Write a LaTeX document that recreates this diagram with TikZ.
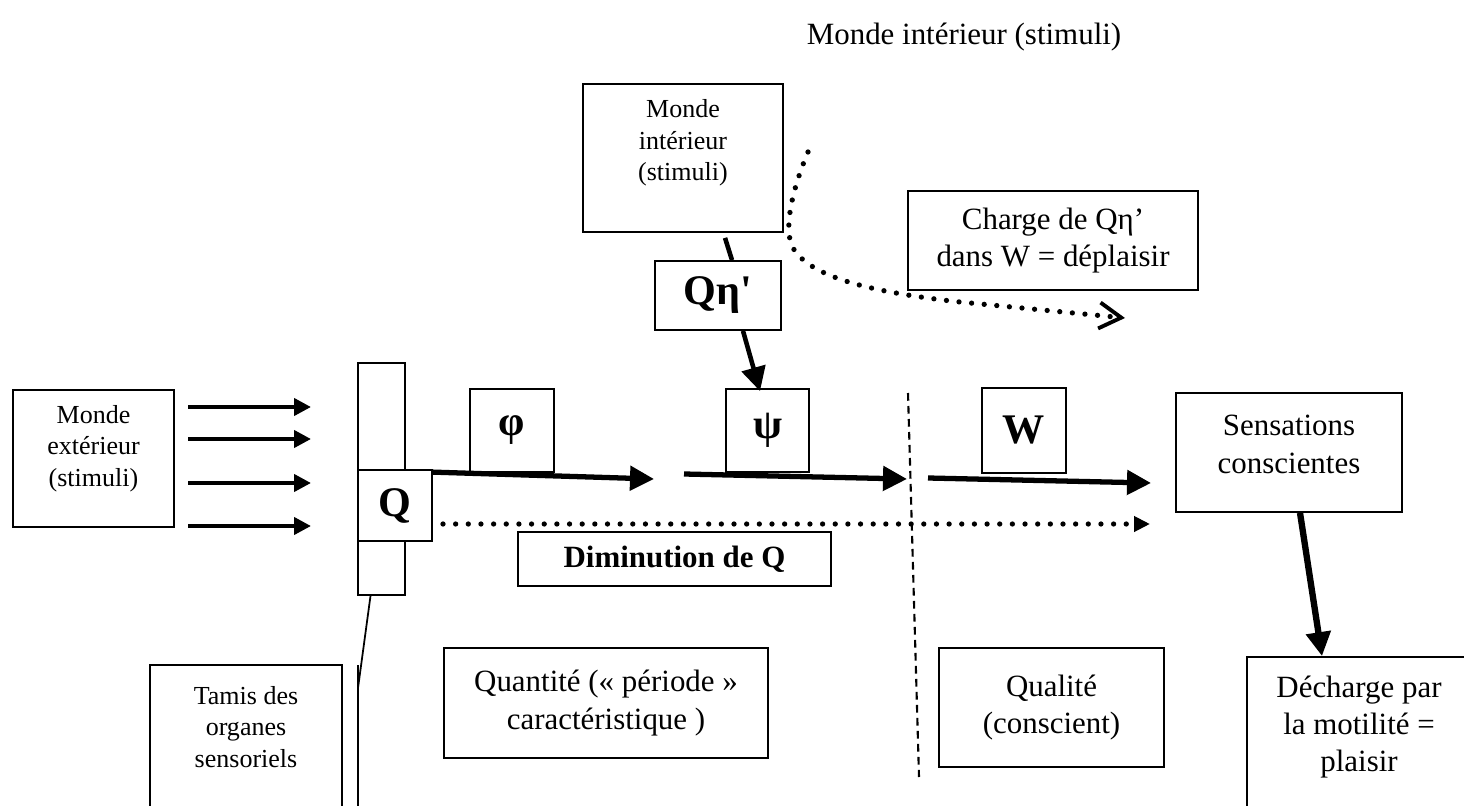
\documentclass[tikz,border=0pt]{standalone}
\usepackage{fontspec}
\setmainfont{Liberation Serif}
\newfontfamily\plainquote{Liberation Serif}[Ligatures=TeXOff]
\usepackage{tikz}
\usetikzlibrary{arrows.meta}
\tikzstyle{box} = [draw, line width=0.5pt, fill=white, align=center, inner sep=0pt]
\tikzstyle{flow} = [draw, -{Triangle[length=2.4mm,width=2.4mm]}, line width=1.5pt]
\tikzstyle{feed} = [draw, -{Triangle[length=1.7mm,width=1.7mm]}, line width=1.15pt]
\tikzstyle{dots} = [draw, line width=1.5pt, line cap=round, dash pattern=on 0pt off 3.6pt]
\tikzstyle{divider} = [draw, line width=0.6pt, dash pattern=on 2.2pt off 1.5pt]
\tikzstyle{txt} = [font=\fontsize{8.8}{10.6}\selectfont]
\tikzstyle{smalltxt} = [font=\fontsize{7.4}{8.9}\selectfont]
\tikzstyle{greek} = [font=\fontsize{12}{14}\selectfont\bfseries]

\begin{document}
\begin{tikzpicture}
	\useasboundingbox (0,0) rectangle (14.64,8.05);
	\clip (0,0) rectangle (14.64,8.05);
	
	\node[txt] (title) at (9.64,7.68) {Monde intérieur (stimuli)};
	
	% ------------------- Boxes ------------------- %
	\node[box, minimum width=2cm, minimum height=1.48cm, label={[smalltxt,align=center,yshift=0.15cm]center:{Monde\\intérieur\\(stimuli)}}] (inner) at (6.83,6.47) {};
	\node[box, greek, minimum width=1.26cm, minimum height=0.69cm] (qeta) at (7.18,5.095) {\plainquote Qη'};
	\node[box, txt, minimum width=2.9cm, minimum height=0.99cm] (charge) at (10.53,5.645) {Charge de Qη’\\dans W = déplaisir};
	
	\node[box, minimum width=1.61cm, minimum height=1.37cm, label={[smalltxt,align=center,yshift=0.1cm]center:{Monde\\extérieur\\(stimuli)}}] (extworld) at (0.935,3.465) {};
	\node[box, minimum width=0.47cm, minimum height=2.32cm] (bar) at (3.815,3.26) {};
	\node[box, greek, minimum width=0.74cm, minimum height=0.71cm] (qbox) at (3.95,2.995) {Q};
	
	\node[box, greek, minimum width=0.84cm, minimum height=0.83cm] (phi) at (5.12,3.745) {φ};
	\node[box, greek, minimum width=0.83cm, minimum height=0.83cm] (psi) at (7.675,3.745) {ψ};
	\node[box, greek, minimum width=0.84cm, minimum height=0.85cm] (wbox) at (10.24,3.745) {W};
	\node[box, minimum width=2.26cm, minimum height=1.19cm, label={[txt,align=center,yshift=0.08cm]center:{Sensations\\conscientes}}] (sens) at (12.89,3.525) {};
	
	\node[box, txt, font=\fontsize{8.8}{10.6}\selectfont\bfseries, minimum width=3.13cm, minimum height=0.54cm] (dimin) at (6.745,2.46) {Diminution de Q};
	
	\node[box, minimum width=1.92cm, minimum height=1.95cm, label={[smalltxt,align=center,yshift=0.355cm]center:{Tamis des\\organes\\sensoriels}}] (tamis) at (2.46,0.425) {};
	\node[box, txt, minimum width=3.24cm, minimum height=1.10cm] (quant) at (6.06,1.02) {Quantité («~période~»\\caractéristique~)};
	\node[box, txt, minimum width=2.25cm, minimum height=1.19cm] (qual) at (10.515,0.975) {Qualité\\(conscient)};
	\node[box, minimum width=2.24cm, minimum height=2.03cm, label={[txt,align=center,yshift=0.315cm]center:{Décharge par\\la motilité =\\plaisir}}] (decharge) at (13.59,0.465) {};
	
	% ------------------- Stimuli entering ------------------- %
	\foreach \y [count=\i] in {3.98,3.66,3.22,2.79} {
		\coordinate (feedin\i) at (1.88,\y);
		\coordinate (feedout\i) at (3.11,\y);
		\draw[feed] (feedin\i) -- (feedout\i);
	}
	
	% tamis callout
	\coordinate (calltop) at (3.58,1.40);
	\coordinate (callbot) at (3.58,-0.3);
	\coordinate (callmid) at (3.58,1.17);
	\draw[line width=0.5pt] ([xshift=-1.1mm]bar.south) -- (callmid);
	\draw[line width=0.5pt] (calltop) -- (callbot);
	
	% ------------------- Main flow ------------------- %
	\coordinate (phiend) at (6.54,3.26);
	\coordinate (psistart) at (6.84,3.31);
	\coordinate (psiend) at (9.07,3.26);
	\coordinate (wstart) at (9.28,3.27);
	\coordinate (wend) at (11.51,3.22);
	\draw[flow] ([yshift=-0.03cm]qbox.north east) -- (phiend);
	\draw[flow] (psistart) -- (psiend);
	\draw[flow] (wstart) -- (wend);
	
	\coordinate (dimstart) at (4.43,2.81);
	\coordinate (dimend) at (11.50,2.81);
	\draw[dots, -{Triangle[length=1.6mm,width=1.5mm]}] (dimstart) -- (dimend);
	
	\draw[flow, line width=1.8pt] ([xshift=1.1mm]sens.south) -- ([xshift=-3.7mm]decharge.north);
	
	% ------------------- Inner world ------------------- %
	\draw[line width=1.3pt] ([xshift=4.2mm,yshift=-0.5mm]inner.south) -- ([xshift=1.4mm]qeta.north);
	\draw[flow, line width=1.3pt] ([xshift=2.5mm]qeta.south) -- ([xshift=-0.75mm,yshift=-0.3mm]psi.north);
	
	\coordinate (curvestart) at (8.08,6.53);
	\coordinate (curveend) at (11.25,4.87);
	\draw[dots, -{Straight Barb[length=2.2mm,width=2.6mm,line width=1.1pt]}] (curvestart) .. controls (7.92,6.15) and (7.83,5.75) .. (7.93,5.57) .. controls (8.10,5.28) and (8.7,5.13) .. (9.6,5.03) -- (curveend);
	
	% ------------------- Vertical dashed line ------------------- %
	\coordinate (cuttop) at (9.08,4.12);
	\coordinate (cutbot) at (9.19,0.28);
	\draw[divider] (cuttop) -- (cutbot);
	
\end{tikzpicture}
\end{document}
